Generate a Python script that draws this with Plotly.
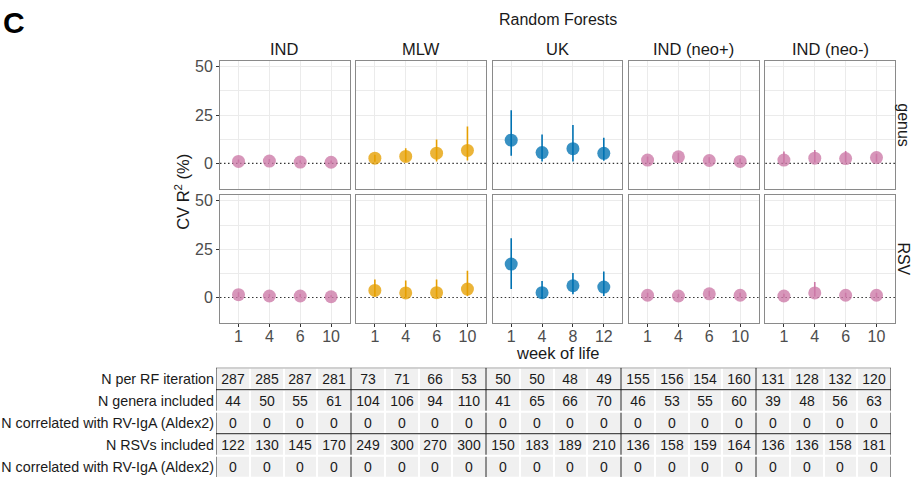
import plotly.graph_objects as go

W, H = 913, 477
FONT = "Liberation Sans, Arial, Helvetica, sans-serif"

# ---------------- data ----------------
sites = ["IND", "MLW", "UK", "IND (neo+)", "IND (neo-)"]
levels = ["genus", "RSV"]

weeks_IND = ["1", "4", "6", "10"]
weeks_MLW = ["1", "4", "6", "10"]
weeks_UK = ["1", "4", "8", "12"]
weeks_neo_pos = ["1", "4", "6", "10"]
weeks_neo_neg = ["1", "4", "6", "10"]

site_colors = ["#CC79A7", "#E69F00", "#0072B2", "#CC79A7", "#CC79A7"]

# genus-level CV R2 (%) : mean, lower, upper
genus_mean_IND = [1.0, 1.2, 0.7, 0.6]
genus_lo_IND = [0.3, 0.4, 0.1, 0.0]
genus_hi_IND = [2.0, 2.3, 1.6, 1.5]
genus_mean_MLW = [2.7, 3.6, 5.3, 6.7]
genus_lo_MLW = [0.8, 1.0, 1.0, 1.5]
genus_hi_MLW = [4.5, 7.8, 12.3, 19.1]
genus_mean_UK = [12.0, 5.6, 7.6, 5.2]
genus_lo_UK = [3.9, 1.0, 1.0, 1.4]
genus_hi_UK = [27.5, 15.0, 19.9, 13.2]
genus_mean_neo_pos = [1.7, 3.4, 1.5, 1.0]
genus_lo_neo_pos = [0.3, 1.0, 0.2, 0.0]
genus_hi_neo_pos = [3.5, 5.5, 3.2, 2.5]
genus_mean_neo_neg = [1.7, 2.7, 2.5, 3.0]
genus_lo_neo_neg = [0.0, 0.5, 0.5, 0.8]
genus_hi_neo_neg = [6.1, 6.9, 6.4, 5.0]

# RSV-level CV R2 (%)
rsv_mean_IND = [1.5, 0.8, 0.8, 0.4]
rsv_lo_IND = [0.3, 0.1, 0.1, 0.0]
rsv_hi_IND = [2.8, 1.8, 1.8, 1.2]
rsv_mean_MLW = [3.7, 2.4, 2.5, 4.4]
rsv_lo_MLW = [0.5, 0.0, 0.2, 0.8]
rsv_hi_MLW = [9.3, 8.8, 9.3, 13.9]
rsv_mean_UK = [17.3, 2.5, 6.1, 5.4]
rsv_lo_UK = [4.4, -0.5, 1.7, 0.8]
rsv_hi_UK = [30.7, 8.5, 12.7, 13.5]
rsv_mean_neo_pos = [1.2, 0.8, 1.9, 1.2]
rsv_lo_neo_pos = [0.2, 0.0, 0.5, 0.2]
rsv_hi_neo_pos = [2.5, 2.0, 3.5, 2.5]
rsv_mean_neo_neg = [0.8, 2.4, 1.2, 1.2]
rsv_lo_neo_neg = [0.0, 0.5, 0.2, 0.2]
rsv_hi_neo_neg = [2.0, 8.0, 2.5, 2.5]

y_ticks = [0, 25, 50]
y_grid = [-12.5, 12.5, 25, 37.5, 50]

# table
table_labels = ["N per RF iteration", "N genera included",
                "N correlated with RV-IgA (Aldex2)", "N RSVs included",
                "N correlated with RV-IgA (Aldex2)"]
n_per_rf = [287, 285, 287, 281, 73, 71, 66, 53, 50, 50, 48, 49,
            155, 156, 154, 160, 131, 128, 132, 120]
n_genera = [44, 50, 55, 61, 104, 106, 94, 110, 41, 65, 66, 70,
            46, 53, 55, 60, 39, 48, 56, 63]
n_corr_genera = [0, 0, 0, 0, 0, 0, 0, 0, 0, 0, 0, 0, 0, 0, 0, 0, 0, 0, 0, 0]
n_rsvs = [122, 130, 145, 170, 249, 300, 270, 300, 150, 183, 189, 210,
          136, 158, 159, 164, 136, 136, 158, 181]
n_corr_rsvs = [0, 0, 0, 0, 0, 0, 0, 0, 0, 0, 0, 0, 0, 0, 0, 0, 0, 0, 0, 0]

# ---------------- assemble ----------------
weeks = [weeks_IND, weeks_MLW, weeks_UK, weeks_neo_pos, weeks_neo_neg]
stats = {
    "genus": [(genus_mean_IND, genus_lo_IND, genus_hi_IND),
              (genus_mean_MLW, genus_lo_MLW, genus_hi_MLW),
              (genus_mean_UK, genus_lo_UK, genus_hi_UK),
              (genus_mean_neo_pos, genus_lo_neo_pos, genus_hi_neo_pos),
              (genus_mean_neo_neg, genus_lo_neo_neg, genus_hi_neo_neg)],
    "RSV": [(rsv_mean_IND, rsv_lo_IND, rsv_hi_IND),
            (rsv_mean_MLW, rsv_lo_MLW, rsv_hi_MLW),
            (rsv_mean_UK, rsv_lo_UK, rsv_hi_UK),
            (rsv_mean_neo_pos, rsv_lo_neo_pos, rsv_hi_neo_pos),
            (rsv_mean_neo_neg, rsv_lo_neo_neg, rsv_hi_neo_neg)],
}


def px(x):
    return x / W


def py(y):
    return 1 - y / H


def rgba(hexc, a):
    h = hexc.lstrip("#")
    r, g, b = int(h[0:2], 16), int(h[2:4], 16), int(h[4:6], 16)
    return f"rgba({r},{g},{b},{a})"


panel_left, panel_w, panel_gap = 220.0, 129.6, 6.75
row_dom = [(58.3, 186.7), (193.3, 321.7)]
GRID = "#ebebeb"
BORDER = "#8a8a8a"

fig = go.Figure()
layout = dict(width=W, height=H, autosize=False,
              margin=dict(l=0, r=0, t=0, b=0),
              paper_bgcolor="white", plot_bgcolor="white",
              showlegend=False, font=dict(family=FONT, color="#1a1a1a"))
shapes = []
annotations = []

for r, level in enumerate(levels):
    for i, site in enumerate(sites):
        idx = r * len(sites) + i + 1
        xa = "x" if idx == 1 else f"x{idx}"
        ya = "y" if idx == 1 else f"y{idx}"
        mean, lo, hi = stats[level][i]
        col = site_colors[i]
        fig.add_trace(go.Scatter(
            x=weeks[i], y=mean, mode="markers",
            marker=dict(size=13, color=rgba(col, 0.78), line=dict(width=0)),
            error_y=dict(type="data", symmetric=False,
                         array=[h - m for h, m in zip(hi, mean)],
                         arrayminus=[m - l for m, l in zip(mean, lo)],
                         width=0, thickness=1.6, color=col),
            xaxis=xa, yaxis=ya, hoverinfo="skip", cliponaxis=False))
        x0 = panel_left + i * (panel_w + panel_gap)
        bottom = (r == len(levels) - 1)
        left = (i == 0)
        layout["xaxis" if idx == 1 else f"xaxis{idx}"] = dict(
            domain=[px(x0), px(x0 + panel_w)], anchor=ya,
            type="category", categoryorder="array", categoryarray=weeks[i],
            range=[-0.6, len(weeks[i]) - 0.4],
            showgrid=True, gridcolor=GRID, gridwidth=1, zeroline=False,
            showline=True, mirror=True, linecolor=BORDER, linewidth=1,
            showticklabels=bottom, ticks="outside" if bottom else "",
            ticklen=3, tickcolor="#333333", tickwidth=1,
            ticklabelstandoff=-4,
            tickfont=dict(size=16, color="#4d4d4d", family=FONT),
            fixedrange=True)
        layout["yaxis" if idx == 1 else f"yaxis{idx}"] = dict(
            domain=[py(row_dom[r][1]), py(row_dom[r][0])], anchor=xa,
            range=[-13, 53], tickmode="array", tickvals=y_ticks,
            showgrid=False, zeroline=False,
            minor=dict(tickvals=y_grid, showgrid=True, gridcolor=GRID,
                       gridwidth=0.9, ticks=""),
            showline=True, mirror=True, linecolor=BORDER, linewidth=1,
            showticklabels=left, ticks="outside" if left else "",
            ticklen=3, tickcolor="#333333", tickwidth=1,
            tickfont=dict(size=16, color="#4d4d4d", family=FONT),
            fixedrange=True)
        shapes.append(dict(type="line", xref=f"{xa} domain", yref=ya,
                           x0=0, x1=1, y0=0, y1=0, layer="below",
                           line=dict(color="#333333", width=1.1, dash="1.5px,2.5px")))
        if r == 0:
            annotations.append(dict(text=site, x=px(x0 + panel_w / 2), y=py(46),
                                    xref="paper", yref="paper", showarrow=False,
                                    xanchor="center", yanchor="middle",
                                    font=dict(size=16.5, color="#1a1a1a")))
    annotations.append(dict(text=level, x=px(903.5), y=py(sum(row_dom[r]) / 2),
                            xref="paper", yref="paper", showarrow=False,
                            textangle=90, xanchor="center", yanchor="middle",
                            font=dict(size=16, color="#1a1a1a")))

# ---------------- table ----------------
table_vals = [n_per_rf, n_genera, n_corr_genera, n_rsvs, n_corr_rsvs]
ncol = len(n_per_rf)
nrow = len(table_vals)
group = len(weeks[0])
row_h = 22.15
tab_top = 367.0
tab_left, tab_right = 216.0, 891.0

fig.add_trace(go.Heatmap(
    z=table_vals, x=list(range(ncol)), y=list(range(nrow)),
    text=[[str(v) for v in row] for row in table_vals],
    texttemplate="%{text}",
    textfont=dict(size=14, color="#1a1a1a", family=FONT),
    colorscale=[[0, "#f0f0f0"], [1, "#f0f0f0"]], showscale=False,
    xgap=2, ygap=2, hoverinfo="skip", xaxis="x11", yaxis="y11"))

layout["xaxis11"] = dict(domain=[px(tab_left), px(tab_right)], anchor="y11",
                         range=[-0.5, ncol - 0.5], visible=False, fixedrange=True)
layout["yaxis11"] = dict(domain=[0, py(tab_top)], anchor="x11",
                         range=[-0.5 + (H - tab_top) / row_h, -0.5],
                         tickmode="array", tickvals=list(range(nrow)),
                         ticktext=table_labels, ticks="", showgrid=False,
                         zeroline=False, showline=False, ticklabelstandoff=1,
                         tickfont=dict(size=14.3, color="#1a1a1a", family=FONT),
                         fixedrange=True)

LINE = "#1a1a1a"
eps = 1.0 / row_h
for yb in [-0.5, 0.5, 2.5]:
    shapes.append(dict(type="line", xref="x11", yref="y11",
                       x0=-0.5, x1=ncol - 0.5, y0=yb, y1=yb, layer="above",
                       line=dict(color=LINE, width=1)))
segs = [(-0.5, 1.5 - eps), (1.5 + eps, 3.5 - eps), (3.5 + eps, nrow - 0.5)]
for g in range(ncol // group + 1):
    xb = -0.5 + g * group
    for (s0, s1) in segs:
        shapes.append(dict(type="line", xref="x11", yref="y11",
                           x0=xb, x1=xb, y0=s0, y1=s1, layer="above",
                           line=dict(color=LINE, width=1)))

# ---------------- titles ----------------
annotations += [
    dict(text="<b>C</b>", x=px(1), y=py(20), xref="paper", yref="paper",
         showarrow=False, xanchor="left", yanchor="middle",
         font=dict(size=30, color="black")),
    dict(text="Random Forests", x=px(557.5), y=py(16.5), xref="paper", yref="paper",
         showarrow=False, xanchor="center", yanchor="middle",
         font=dict(size=16, color="#1a1a1a")),
    dict(text="CV R<sup>2</sup> (%)", x=px(182), y=py(190), xref="paper", yref="paper",
         showarrow=False, xanchor="center", yanchor="middle", textangle=-90,
         font=dict(size=16.5, color="#1a1a1a")),
    dict(text="week of life", x=px(557.5), y=py(352.5), xref="paper", yref="paper",
         showarrow=False, xanchor="center", yanchor="middle",
         font=dict(size=16.5, color="#1a1a1a")),
]

layout["shapes"] = shapes
layout["annotations"] = annotations
fig.update_layout(**layout)
fig.write_html("out.html")
